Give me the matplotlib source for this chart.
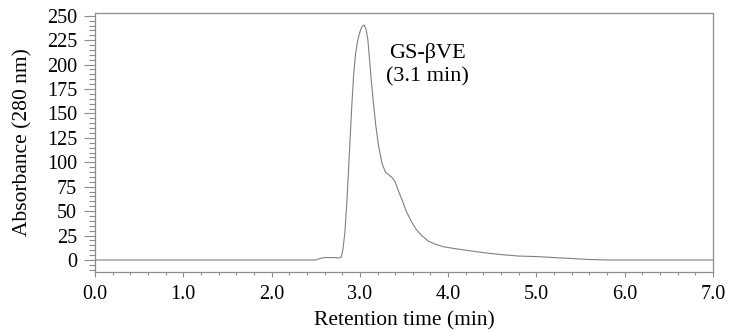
import matplotlib
matplotlib.use("Agg")
import matplotlib.pyplot as plt
from matplotlib.ticker import MultipleLocator, FormatStrFormatter

time_min = [0.0, 2.50, 2.55, 2.60, 2.70, 2.76, 2.79, 2.81, 2.83, 2.85, 2.87, 2.89, 2.91,
            2.93, 2.95, 2.97, 2.99, 3.01, 3.03, 3.05, 3.07, 3.09, 3.11, 3.13, 3.15, 3.18,
            3.21, 3.25, 3.29, 3.33, 3.37, 3.40, 3.44, 3.48, 3.53, 3.58, 3.64, 3.70, 3.78,
            3.86, 3.95, 4.05, 4.20, 4.40, 4.60, 4.80, 5.00, 5.20, 5.40, 5.60, 5.80, 7.00]
absorbance = [0, 0, 1.5, 2.5, 2.5, 2, 3, 12, 28, 55, 89, 125, 160,
              190, 210, 222, 230, 236, 239.5, 240.5, 236, 226, 205, 183, 164, 138,
              118, 99, 90, 87, 84, 80, 70, 61, 49, 40, 31, 25, 19,
              16, 13.5, 12, 10, 7.5, 5.5, 4, 3.5, 2.5, 1.5, 0.5, 0, 0]

peak_label = "GS-\u03b2VE\n(3.1 min)"
x_ticks = [0, 1, 2, 3, 4, 5, 6, 7]
y_ticks = [0, 25, 50, 75, 100, 125, 150, 175, 200, 225, 250]

plt.rcParams['font.family'] = ['Liberation Serif', 'DejaVu Serif']

fig = plt.figure(figsize=(7.29, 3.33), dpi=100)
ax = fig.add_axes([95/729, 1-271.7/333, (713-95)/729, (271.7-13.3)/333])

ax.plot(time_min, absorbance, color='#808080', lw=0.8)

ax.set_xlim(0, 7)
ax.set_ylim(-12, 252.5)
ax.set_xticks(x_ticks)
ax.set_yticks(y_ticks)
ax.xaxis.set_major_formatter(FormatStrFormatter('%.1f'))
ax.xaxis.set_minor_locator(MultipleLocator(0.2))
ax.yaxis.set_minor_locator(MultipleLocator(5))

for s in ax.spines.values():
    s.set_color('#8c8c8c')
    s.set_linewidth(0.9)

ax.tick_params(which='both', direction='out', color='#8c8c8c', width=0.8, labelsize=14.5, labelcolor='black')
ax.tick_params(axis='x', which='major', length=3.6, pad=6)
ax.tick_params(axis='x', which='minor', length=2)
ax.tick_params(axis='y', which='major', length=7.9, pad=5)
ax.tick_params(axis='y', which='minor', length=4.3)

ax.set_xlabel("Retention time (min)", fontsize=15.5, labelpad=5.5)
ax.set_ylabel("Absorbance (280 nm)", fontsize=15.5, labelpad=10)

ax.text(3.77, 222.5, peak_label, ha='center', va='top', fontsize=16, linespacing=1.3)

fig.savefig("out.png", dpi=100)
